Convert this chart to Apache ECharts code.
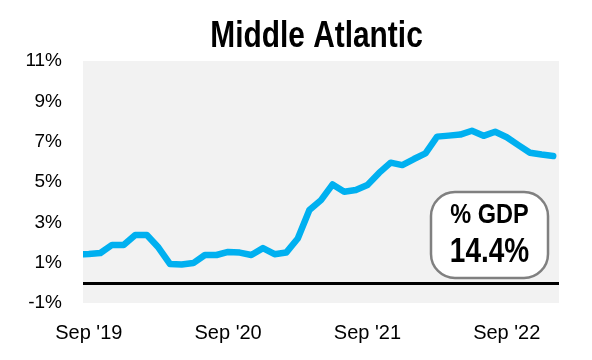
<!DOCTYPE html>
<html>
<head>
<meta charset="utf-8">
<script src="https://cdn.jsdelivr.net/npm/echarts@6/dist/echarts.min.js"></script>
<style>
html,body{margin:0;padding:0;background:#fff;}
#chart{width:592px;height:360px;}
</style>
</head>
<body>
<div id="chart"></div>
<script>
const titleText = "Middle Atlantic";
const months = ["Aug '19","Sep '19","Oct '19","Nov '19","Dec '19","Jan '20","Feb '20","Mar '20","Apr '20","May '20","Jun '20","Jul '20","Aug '20",
  "Sep '20","Oct '20","Nov '20","Dec '20","Jan '21","Feb '21","Mar '21","Apr '21","May '21","Jun '21","Jul '21","Aug '21",
  "Sep '21","Oct '21","Nov '21","Dec '21","Jan '22","Feb '22","Mar '22","Apr '22","May '22","Jun '22","Jul '22","Aug '22",
  "Sep '22","Oct '22","Nov '22","Dec '22","Jan '23"];
const values = [1.40,1.43,1.48,1.88,1.88,2.37,2.37,1.75,0.93,0.91,0.98,1.38,1.38,
  1.53,1.50,1.38,1.72,1.42,1.50,2.20,3.61,4.10,4.88,4.52,4.60,
  4.85,5.45,5.96,5.84,6.14,6.42,7.25,7.30,7.35,7.54,7.29,7.49,
  7.22,6.83,6.45,6.36,6.29];
const yTicks = [-1,1,3,5,7,9,11];
const boxLabel = "% GDP";
const boxValue = "14.4%";

const chart = echarts.init(document.getElementById('chart'), null, {renderer:'canvas'});
const sans = "'Liberation Sans',Arial,sans-serif";
chart.setOption({
  animation:false,
  backgroundColor:'#ffffff',
  grid:{left:83,right:33,top:61,bottom:57,show:true,backgroundColor:'#f2f2f2',borderWidth:0},
  xAxis:{
    type:'category',
    data:months,
    min:1,
    boundaryGap:true,
    axisLine:{show:false},
    axisTick:{show:false},
    splitLine:{show:false},
    axisLabel:{
      interval:function(i,v){return v.indexOf('Sep')===0;},
      color:'#000',fontFamily:sans,fontSize:20,margin:20
    }
  },
  yAxis:{
    type:'value',
    min:yTicks[0],max:yTicks[yTicks.length-1],interval:2,
    axisLine:{show:false},axisTick:{show:false},splitLine:{show:false},
    axisLabel:{formatter:'{value}%',color:'#000',fontFamily:sans,fontSize:19,margin:21}
  },
  series:[{
    type:'line',
    data:values,
    symbol:'none',
    clip:true,
    lineStyle:{color:'#00b0f0',width:6.5,cap:'round',join:'round'},
    markLine:{
      silent:true,symbol:'none',
      label:{show:false},
      lineStyle:{color:'#000',width:3,type:'solid'},
      data:[{yAxis:0}]
    }
  }],
  graphic:[
    {type:'rect',z:100,shape:{x:66,y:55,width:17,height:255},style:{fill:'#ffffff'}},
    {type:'text',x:316.5,y:37.5,scaleX:0.83,style:{text:titleText,font:"bold 36px "+sans,fill:'#000',align:'center',verticalAlign:'middle'}},
    {type:'rect',shape:{x:431,y:192,width:117,height:86,r:24},style:{fill:'#fff',stroke:'#808080',lineWidth:2.5}},
    {type:'text',x:489.5,y:215,scaleX:0.84,style:{text:boxLabel,font:"bold 28px "+sans,fill:'#000',align:'center',verticalAlign:'middle'}},
    {type:'text',x:489.5,y:252.5,scaleX:0.8,style:{text:boxValue,font:"bold 35px "+sans,fill:'#000',align:'center',verticalAlign:'middle'}}
  ]
});
</script>
</body>
</html>
